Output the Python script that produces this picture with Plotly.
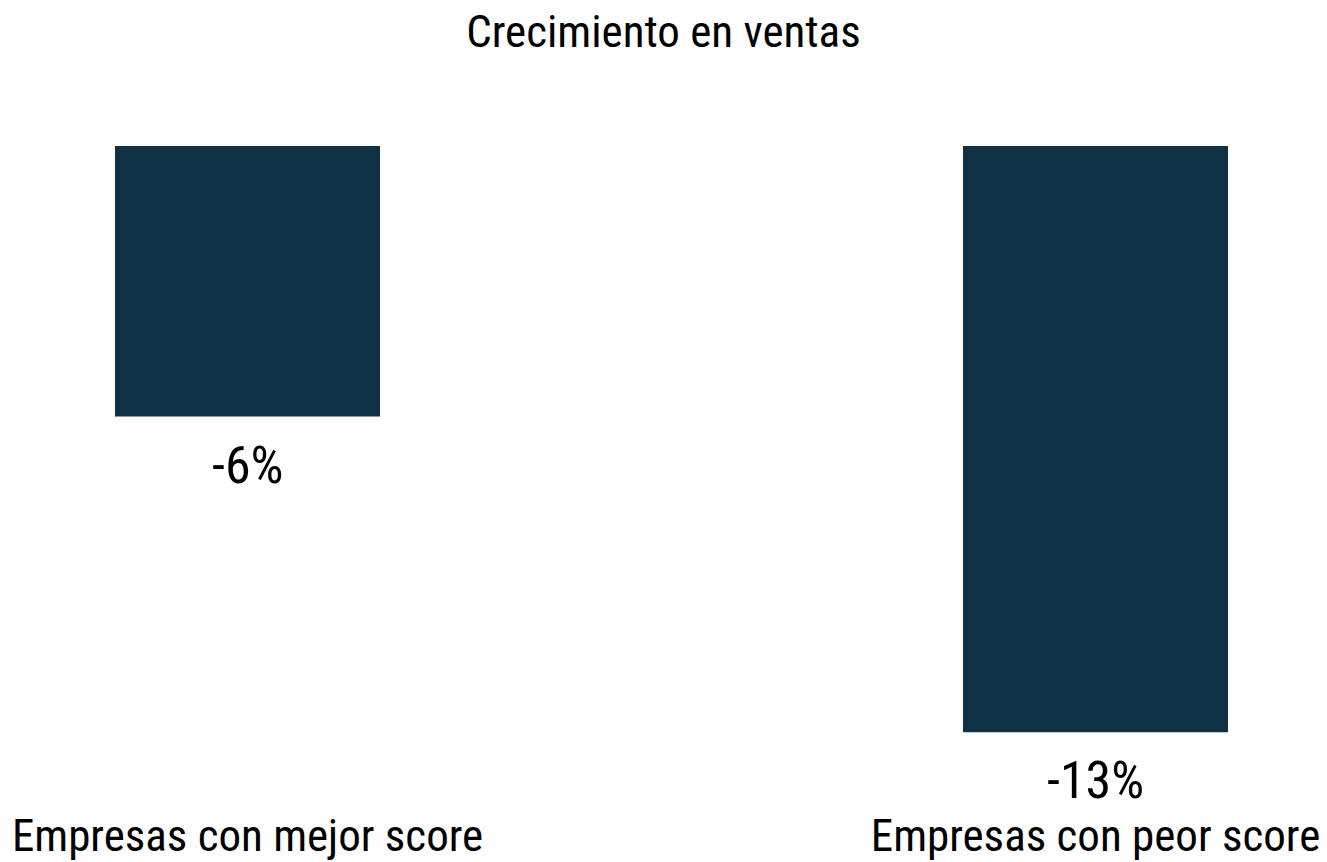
import plotly.graph_objects as go

# Sales growth by company group
categorias = ["Empresas con mejor score", "Empresas con peor score"]
crecimiento = [-6, -13]  # percent

FONT = "Liberation Sans Narrow, Arial Narrow, Roboto Condensed, Liberation Sans, sans-serif"
BAR_COLOR = "#0e3144"

W, H = 1327, 862
TOP, BOTTOM = 146, 805
PX_PER_UNIT = 45.1
ymin = -(BOTTOM - TOP) / PX_PER_UNIT

# x range so category centres sit at 247.5 px and 1095.5 px
band = 848.0
x0 = -247.5 / band
x1 = x0 + W / band

fig = go.Figure(
    go.Bar(
        x=[0, 1],
        y=crecimiento,
        width=265 / band,
        marker=dict(color=BAR_COLOR, line=dict(width=0)),
        hoverinfo="skip",
    )
)

for i, v in enumerate(crecimiento):
    fig.add_annotation(
        x=i, y=v, xref="x", yref="y",
        text=f"{v}%", showarrow=False,
        yanchor="top", yshift=-16,
        font=dict(family=FONT, size=52, color="#000000"),
    )

fig.update_layout(
    width=W, height=H,
    margin=dict(l=0, r=0, t=TOP, b=H - BOTTOM),
    paper_bgcolor="#ffffff",
    plot_bgcolor="#ffffff",
    showlegend=False,
    title=dict(
        text="Crecimiento en ventas",
        x=0.5, xanchor="center",
        y=1 - 31 / H, yanchor="middle", yref="container",
        font=dict(family=FONT, size=45, color="#000000"),
    ),
    xaxis=dict(
        range=[x0, x1],
        tickmode="array", tickvals=[0, 1], ticktext=categorias,
        showgrid=False, zeroline=False, showline=False, ticks="",
        tickfont=dict(family=FONT, size=45, color="#000000"),
        fixedrange=True,
    ),
    yaxis=dict(
        range=[ymin, 0],
        showgrid=False, zeroline=False, showline=False,
        showticklabels=False, ticks="",
        fixedrange=True,
    ),
)

fig.write_html("out.html")
